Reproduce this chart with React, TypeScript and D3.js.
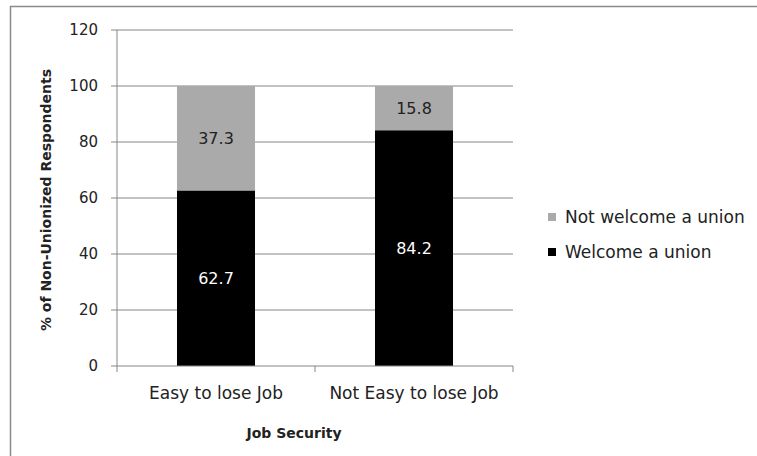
import React from "react";
import * as d3 from "d3";

const categories = ["Easy to lose Job", "Not Easy to lose Job"];
const welcome = [62.7, 84.2];
const notWelcome = [37.3, 15.8];
const seriesNames = ["Not welcome a union", "Welcome a union"];
const yTicks = [0, 20, 40, 60, 80, 100, 120];

const W = 757, H = 456;
const FONT = "'DejaVu Sans', sans-serif";

export default function App() {
  const left = 117, right = 513, top = 30, bottom = 366;
  const x = d3.scaleBand<string>().domain(categories).range([left, right]).paddingInner(0.606).paddingOuter(0.303);
  const xb = d3.scaleBand<string>().domain(categories).range([left, right]);
  const y = d3.scaleLinear().domain([0, 120]).range([bottom, top]);
  const gray = "#868686";
  return (
    <svg width={W} height={H} style={{ position: "absolute", left: 0, top: 0 }}>
      <rect x={0} y={0} width={W} height={H} fill="#fff" />
      <rect x={10.5} y={6.5} width={W + 10} height={H + 10} fill="#fff" stroke="#8a8a8a" strokeWidth={1.5} />
      {yTicks.map((t) => (
        <g key={t}>
          {t > 0 && <line x1={left} x2={right} y1={y(t)} y2={y(t)} stroke={gray} strokeWidth={1} />}
          <line x1={left - 6} x2={left} y1={y(t)} y2={y(t)} stroke={gray} />
          <text x={98} y={y(t)} dy="0.35em" textAnchor="end" fontFamily={FONT} fontSize={15} fill="#222">{t}</text>
        </g>
      ))}
      {categories.map((c, i) => {
        const bx = x(c)!;
        const bw = x.bandwidth();
        return (
          <g key={c}>
            <rect x={bx} y={y(welcome[i])} width={bw} height={y(0) - y(welcome[i])} fill="#000" />
            <rect x={bx} y={y(welcome[i] + notWelcome[i])} width={bw} height={y(welcome[i]) - y(welcome[i] + notWelcome[i])} fill="#aaaaaa" />
            <text x={bx + bw / 2} y={y(welcome[i] / 2)} dy="0.35em" textAnchor="middle" fontFamily={FONT} fontSize={16} fill="#fff">{welcome[i]}</text>
            <text x={bx + bw / 2} y={y(welcome[i] + notWelcome[i] / 2)} dy="0.35em" textAnchor="middle" fontFamily={FONT} fontSize={16} fill="#222">{notWelcome[i]}</text>
            <text x={xb(c)! + xb.bandwidth() / 2} y={393} dy="0.35em" textAnchor="middle" fontFamily={FONT} fontSize={17} fill="#222">{c}</text>
          </g>
        );
      })}
      <line x1={left} x2={left} y1={top} y2={bottom} stroke={gray} />
      <line x1={left} x2={right} y1={bottom} y2={bottom} stroke={gray} />
      {[0, 1, 2].map((i) => (
        <line key={i} x1={left + i * xb.bandwidth()} x2={left + i * xb.bandwidth()} y1={bottom} y2={bottom + 6} stroke={gray} />
      ))}
      <text x={294} y={433} dy="0.35em" textAnchor="middle" fontFamily={FONT} fontSize={14} fontWeight="bold" fill="#222">Job Security</text>
      <text transform="translate(46,200) rotate(-90)" dy="0.35em" textAnchor="middle" fontFamily={FONT} fontSize={14} fontWeight="bold" fill="#222" textLength={262} lengthAdjust="spacingAndGlyphs">% of Non-Unionized  Respondents</text>
      {seriesNames.map((s, i) => (
        <g key={s}>
          <rect x={548} y={(i === 0 ? 217 : 252) - 4} width={8} height={8} fill={i === 0 ? "#aaaaaa" : "#000"} />
          <text x={565} y={i === 0 ? 217 : 252} dy="0.35em" fontFamily={FONT} fontSize={17} fill="#222">{s}</text>
        </g>
      ))}
    </svg>
  );
}
